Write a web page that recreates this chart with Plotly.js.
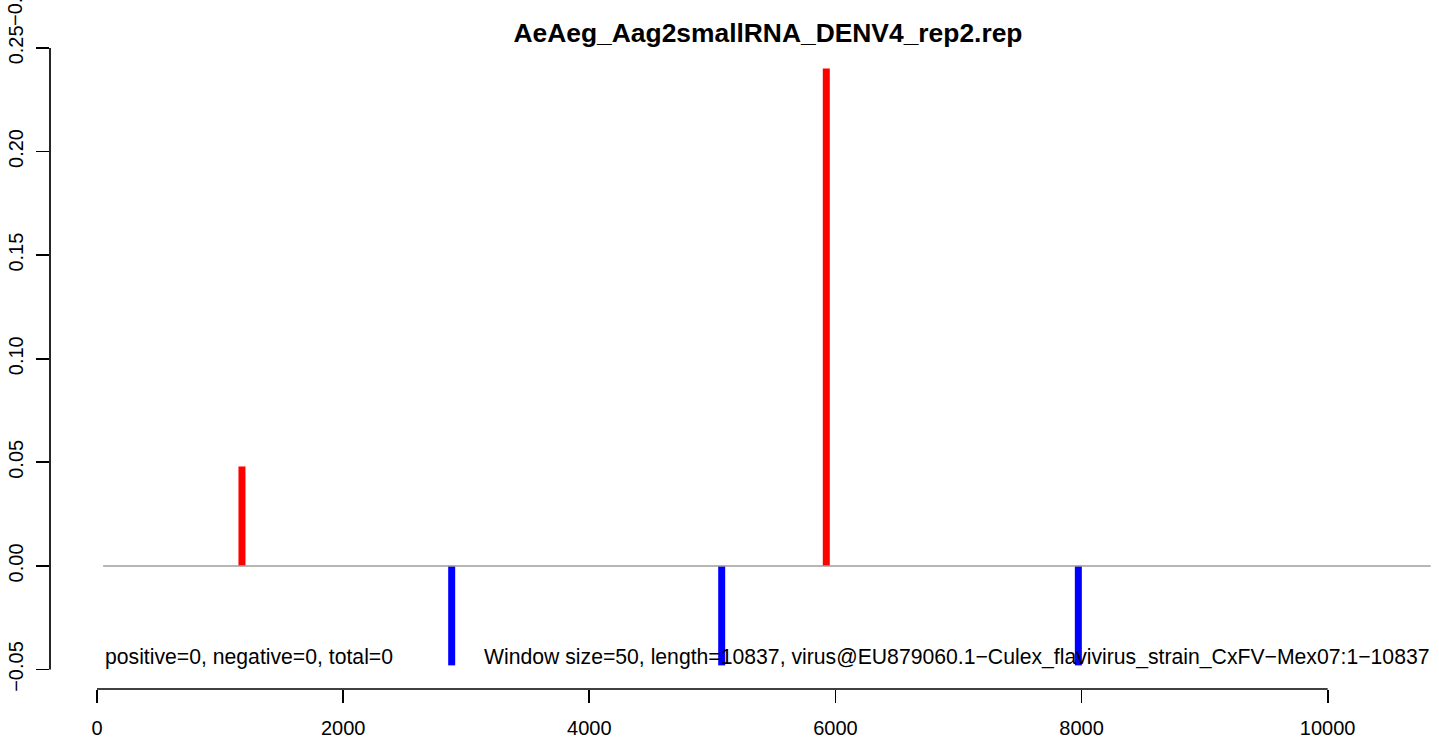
<!DOCTYPE html>
<html>
<head>
<meta charset="utf-8">
<script src="https://cdn.plot.ly/plotly-3.0.1.min.js"></script>
<style>html,body{margin:0;padding:0;background:#fff;overflow:hidden}#chart{width:1439px;height:740px}</style>
</head>
<body>
<div id="chart"></div>
<script>
// ---- data ----
const chartTitle = "AeAeg_Aag2smallRNA_DENV4_rep2.rep";
const posX = [1178, 5926];
const posY = [0.048, 0.240];
const negX = [2882, 5076, 7974];
const negY = [-0.048, -0.048, -0.048];
const baselineX = [50, 10837];
const baselineY = [0, 0];
const xTicks = [0, 2000, 4000, 6000, 8000, 10000];
const yTicks = [-0.05, 0, 0.05, 0.10, 0.15, 0.20, 0.25];
const leftNote = "positive=0, negative=0, total=0";
const rightNote = "Window size=50, length=10837, virus@EU879060.1\u2212Culex_flavivirus_strain_CxFV\u2212Mex07:1\u221210837";
const cornerText = "\u22120.05";

// ---- build helpers ----
function stems(xs, ys) {
  const X = [], Y = [];
  xs.forEach((x, i) => { X.push(x, x, null); Y.push(0, ys[i], null); });
  return {X, Y};
}
const p = stems(posX, posY);
const n = stems(negX, negY);
const FONT = "Liberation Sans, Arial, Helvetica, sans-serif";

const traces = [
  {x: p.X, y: p.Y, type: 'scatter', mode: 'lines', line: {color: '#ff0000', width: 7}, hoverinfo: 'skip', showlegend: false},
  {x: n.X, y: n.Y, type: 'scatter', mode: 'lines', line: {color: '#0000ff', width: 7}, hoverinfo: 'skip', showlegend: false},
  {x: baselineX, y: baselineY, type: 'scatter', mode: 'lines', line: {color: '#9e9e9e', width: 1.5}, hoverinfo: 'skip', showlegend: false}
];

const layout = {
  width: 1439, height: 740,
  paper_bgcolor: '#ffffff', plot_bgcolor: '#ffffff',
  margin: {l: 50, r: 5, t: 45, b: 51, pad: 0},
  font: {family: FONT, color: '#000000', size: 20},
  title: {text: '<b>' + chartTitle + '</b>', font: {family: FONT, size: 26.4, color: '#000'},
          xref: 'container', x: 768/1439, xanchor: 'center', yref: 'container', y: 1 - 33/740, yanchor: 'middle'},
  xaxis: {range: [-381.9, 10864], tickmode: 'array', tickvals: xTicks, ticktext: xTicks.map(String),
          showgrid: false, zeroline: false, showline: false, ticks: 'outside', ticklen: 13, tickwidth: 1.7,
          tickcolor: '#000', tickfont: {size: 20, family: FONT}, ticklabelstandoff: 8, fixedrange: true},
  yaxis: {range: [-0.0594, 0.2514], tickmode: 'array', tickvals: yTicks, ticktext: yTicks.map(v => (v < 0 ? '\u2212' : '') + Math.abs(v).toFixed(2)),
          showgrid: false, zeroline: false, showline: false, ticks: 'outside', ticklen: 13, tickwidth: 1.7,
          tickcolor: '#000', tickangle: -90, tickfont: {size: 20, family: FONT}, ticklabelstandoff: 5, fixedrange: true},
  shapes: [
    {type: 'line', xref: 'x', yref: 'paper', x0: xTicks[0], x1: xTicks[xTicks.length - 1], y0: 0, y1: 0, line: {color: '#000', width: 1.7}},
    {type: 'line', xref: 'paper', yref: 'y', x0: 0, x1: 0, y0: yTicks[0], y1: yTicks[yTicks.length - 1], line: {color: '#000', width: 1.7}}
  ],
  annotations: [
    {text: leftNote, x: baselineX[0], y: -0.0439, xref: 'x', yref: 'y', xanchor: 'left', yanchor: 'middle', showarrow: false, font: {size: 21.2, family: FONT, color: '#000'}},
    {text: rightNote, x: baselineX[1], y: -0.0439, xref: 'x', yref: 'y', xanchor: 'right', yanchor: 'middle', showarrow: false, font: {size: 21.2, family: FONT, color: '#000'}},
    {text: cornerText, x: -35/1384, y: 1 + 44/644, xref: 'paper', yref: 'paper', xanchor: 'center', yanchor: 'middle', textangle: -90, showarrow: false, font: {size: 20, family: FONT, color: '#000'}}
  ]
};

Plotly.newPlot('chart', traces, layout, {displayModeBar: false, staticPlot: true});
</script>
</body>
</html>
